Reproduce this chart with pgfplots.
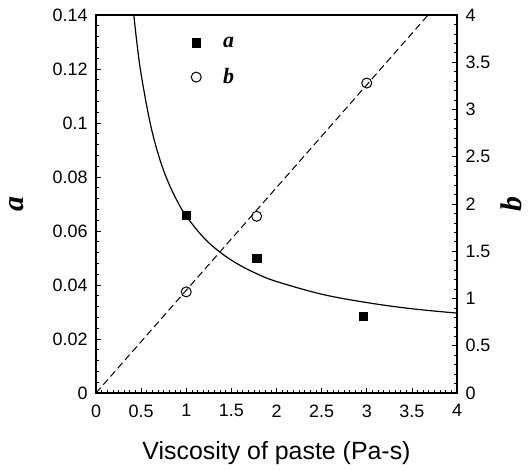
\documentclass[border=0pt]{standalone}
\usepackage{pgfplots}
\pgfplotsset{compat=1.18}
\usepackage{fontspec}
\setmainfont{Liberation Sans}
\newfontfamily\serifbi{Liberation Serif}
\begin{document}
\begin{tikzpicture}
\pgfplotsset{
  common/.style={
    scale only axis, width=361bp, height=378bp,
    xmin=0, xmax=4,
    tick align=inside,
    major tick length=5bp, minor tick length=3bp,
    axis line style={line width=1.2pt},
    every tick/.style={black, line width=0.7pt},
    tick label style={font=\fontsize{18}{18}\selectfont},
    /pgf/number format/assume math mode=true,
  }
}
\begin{axis}[
  common,
  ymin=0, ymax=0.14,
  xtick pos=bottom, ytick pos=left,
  xtick={0,0.5,1,1.5,2,2.5,3,3.5,4},
  xticklabels={0,0.5,1,1.5,2,2.5,3,3.5,4},
  minor x tick num=7,
  ytick={0,0.02,0.04,0.06,0.08,0.1,0.12,0.14},
  yticklabels={0,0.02,0.04,0.06,0.08,0.1,0.12,0.14},
  minor y tick num=4,
  xticklabel style={yshift=-8bp},
  yticklabel style={xshift=-5bp},
  xlabel={Viscosity of paste (Pa-s)},
  every axis x label/.style={font=\fontsize{25}{25}\selectfont, at={(axis description cs:0.5,-0.159)}, anchor=center},
  ylabel={\serifbi\bfseries\itshape a},
  every axis y label/.style={font=\fontsize{30}{30}\selectfont, at={(axis description cs:-0.219,0.5)}, anchor=center, rotate=90, inner sep=0pt},
  legend style={at={(axis description cs:0.255,0.953)}, anchor=north west, draw=none, fill=none,
    font=\fontsize{22}{22}\selectfont\serifbi\bfseries\itshape, row sep=16bp, column sep=20bp},
  legend cell align=left,
]
\addplot[black, line width=1.2pt, smooth, tension=0.6, forget plot] coordinates {
 (0.41,0.1430) (0.45,0.1306) (0.5,0.1181) (0.6,0.1000) (0.7,0.0873) (0.8,0.0781) (0.9,0.0711)
 (1.0,0.0655) (1.2,0.0573) (1.4,0.0515) (1.6,0.0472) (1.8,0.0439) (2.0,0.0413) (2.5,0.0366)
 (3.0,0.0335) (3.5,0.0312) (4.0,0.0296)
};
\addplot[only marks, mark=square*, mark size=4.2bp, black] coordinates {
 (1.0,0.0659) (1.78,0.0500) (2.96,0.0285)
};
\addlegendentry{a}
\addlegendimage{only marks, mark=o, mark size=5bp, black, line width=1pt}
\addlegendentry{b}
\end{axis}
\begin{axis}[
  common,
  ymin=0, ymax=4,
  axis x line=none,
  axis y line*=right,
  ytick={0,0.5,1,1.5,2,2.5,3,3.5,4},
  yticklabels={0,0.5,1,1.5,2,2.5,3,3.5,4},
  minor y tick num=4,
  yticklabel style={xshift=5bp},
  ylabel={\serifbi\bfseries\itshape b},
  every axis y label/.style={font=\fontsize{30}{30}\selectfont, at={(axis description cs:1.15,0.5)}, anchor=center, rotate=90, inner sep=0pt},
]
\addplot[black, line width=1pt, dash pattern=on 7bp off 4bp] coordinates {(0,0) (3.68,4)};
\addplot[only marks, mark=o, mark size=5bp, black, line width=1pt, fill=white] coordinates {
 (1.0,1.07) (1.78,1.87) (3.0,3.28)
};
\end{axis}
\pgfresetboundingbox
\path[use as bounding box] (-96bp,-78bp) rectangle (432bp,393bp);
\end{tikzpicture}
\end{document}
